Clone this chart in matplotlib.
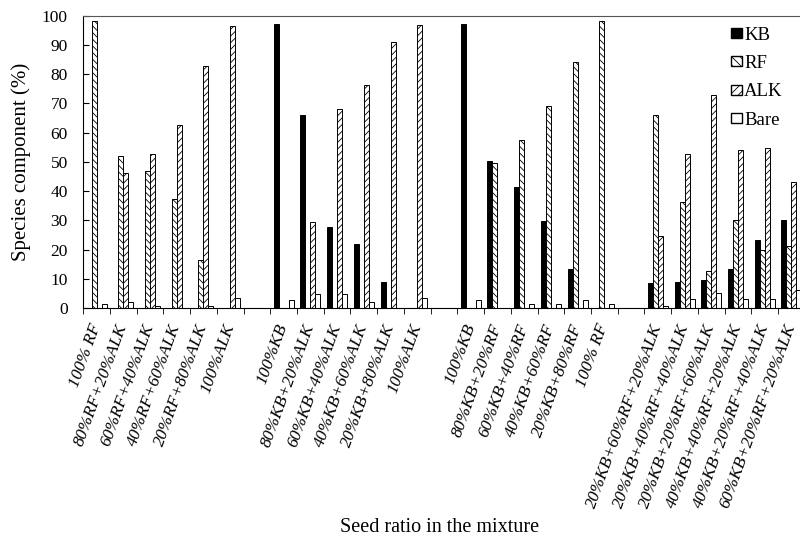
import matplotlib.pyplot as plt
import numpy as np
from matplotlib.patches import Patch

plt.rcParams['font.family'] = ['Liberation Serif', 'DejaVu Serif']
plt.rcParams['hatch.linewidth'] = 0.6

# seed mixtures, blank slot between the four groups
labels = [
    "100% RF", "80%RF+20%ALK", "60%RF+40%ALK", "40%RF+60%ALK", "20%RF+80%ALK", "100%ALK",
    "",
    "100%KB", "80%KB+20%ALK", "60%KB+40%ALK", "40%KB+60%ALK", "20%KB+80%ALK", "100%ALK",
    "",
    "100%KB", "80%KB+20%RF", "60%KB+40%RF", "40%KB+60%RF", "20%KB+80%RF", "100% RF",
    "",
    "20%KB+60%RF+20%ALK", "20%KB+40%RF+40%ALK", "20%KB+20%RF+60%ALK",
    "40%KB+40%RF+20%ALK", "40%KB+20%RF+40%ALK", "60%KB+20%RF+20%ALK",
]

kb = [0, 0, 0, 0, 0, 0,
      0,
      97.3, 66.1, 27.6, 21.9, 8.8, 0,
      0,
      97.3, 50.3, 41.4, 29.8, 13.5, 0,
      0,
      8.6, 8.8, 9.5, 13.5, 23.3, 30.1]
rf = [98.4, 51.9, 46.8, 37.4, 16.5, 0,
      0,
      0, 0, 0, 0, 0, 0,
      0,
      0, 49.7, 57.4, 69.0, 84.2, 98.4,
      0,
      66.1, 36.1, 12.8, 30.2, 19.7, 21.1]
alk = [0, 46.1, 52.6, 62.6, 82.7, 96.6,
       0,
       0, 29.3, 68.1, 76.3, 91.2, 96.7,
       0,
       0, 0, 0, 0, 0, 0,
       0,
       24.6, 52.7, 73.0, 53.9, 54.6, 43.0]
bare = [1.5, 2.1, 0.8, 0, 0.8, 3.4,
        0,
        2.7, 4.8, 4.7, 2.1, 0, 3.4,
        0,
        2.6, 0, 1.4, 1.4, 2.6, 1.5,
        0,
        0.8, 2.9, 5.1, 2.9, 2.9, 6.3]

fig = plt.figure(figsize=(8, 5.46), dpi=100)
ax = fig.add_axes([0.104, 0.436, 0.902, 0.535])

x = np.arange(len(labels)) + 0.5
w = 0.187
ax.bar(x - 1.5 * w, kb, w, color='black', edgecolor='black', linewidth=0.7)
ax.bar(x - 0.5 * w, rf, w, color='white', edgecolor='black', hatch='\\\\\\\\\\', linewidth=0.7)
ax.bar(x + 0.5 * w, alk, w, color='white', edgecolor='black', hatch='/////', linewidth=0.7)
ax.bar(x + 1.5 * w, bare, w, color='white', edgecolor='black', linewidth=0.7)

ax.set_xlim(0, len(labels))
ax.set_ylim(0, 100)
ax.set_yticks(range(0, 101, 10))
ax.tick_params(axis='y', direction='in', length=4, labelsize=12.5, pad=11)

# labels at slot centres, tick marks at slot edges
ax.set_xticks(x)
ax.set_xticklabels(labels, rotation=70, ha='right', va='center',
                   rotation_mode='anchor', fontsize=12.5, fontstyle='italic')
ax.tick_params(axis='x', which='major', length=0, pad=12)
ax.set_xticks(np.arange(len(labels) + 1), minor=True)
ax.tick_params(axis='x', which='minor', direction='out', length=4)

ax.spines['top'].set_color('#555555')
ax.spines['right'].set_visible(False)

ax.set_ylabel("Species component (%)", fontsize=15, labelpad=8)
fig.text(0.55, 0.025, "Seed ratio in the mixture", ha='center', fontsize=14.5)

handles = [
    Patch(facecolor='black', edgecolor='black', label='KB'),
    Patch(facecolor='white', edgecolor='black', hatch='\\\\\\\\', label='RF'),
    Patch(facecolor='white', edgecolor='black', hatch='////', label='ALK'),
    Patch(facecolor='white', edgecolor='black', label='Bare'),
]
fig.legend(handles=handles, loc='upper right', bbox_to_anchor=(0.99, 0.968),
           frameon=False, fontsize=13.5, handlelength=0.6, handleheight=0.45,
           handletextpad=0.1, labelspacing=0.6, borderpad=0)

fig.savefig("out.png", dpi=100)
